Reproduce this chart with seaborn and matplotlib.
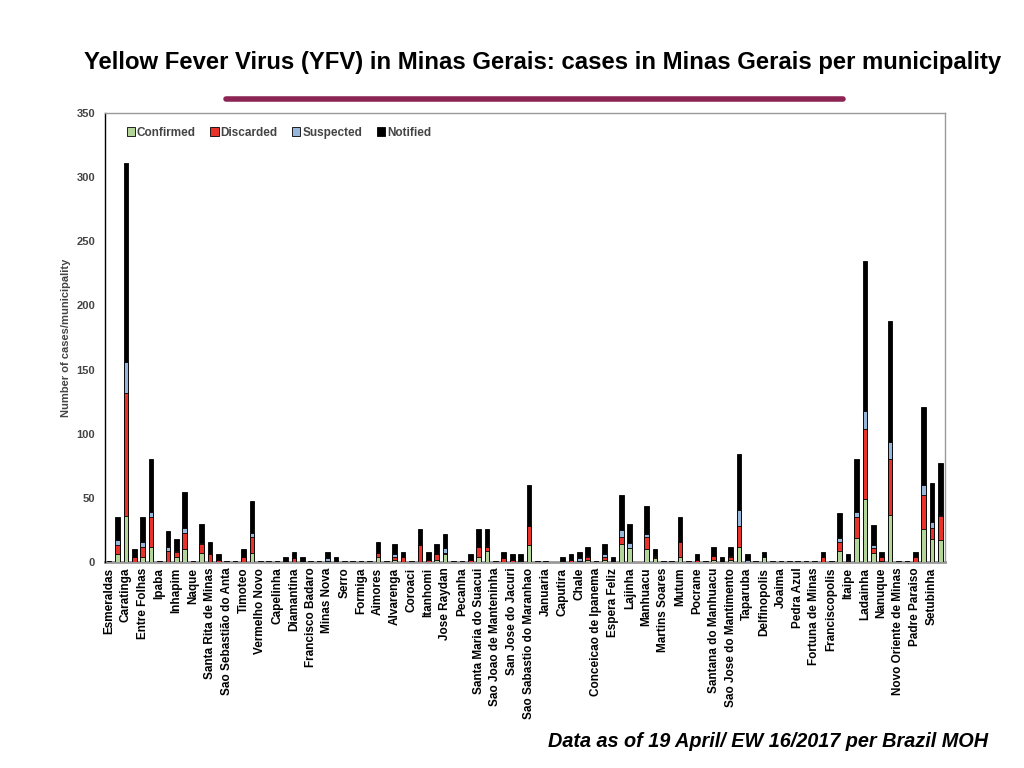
import numpy as np
import pandas as pd
import matplotlib
matplotlib.use("Agg")
import matplotlib.pyplot as plt
from matplotlib.patches import Patch
import seaborn as sns

# municipality labels (only every other bar is labelled on the original slide)
labels = ['Esmeraldas', 'Caratinga', 'Entre Folhas', 'Ipaba', 'Inhapim', 'Naque',
          'Santa Rita de Minas', 'Sao Sebastião do Anta', 'Timoteo', 'Vermelho Novo',
          'Capelinha', 'Diamantina', 'Francisco Badaro', 'Minas Nova', 'Serro',
          'Formiga', 'Aimores', 'Alvarenga', 'Coroaci', 'Itanhomi', 'Jose Raydan',
          'Pecanha', 'Santa Maria do Suacui', 'Sao Joao de Manteninha',
          'San Jose do Jacuri', 'Sao Sabastio do Maranhao', 'Januaria', 'Caputira',
          'Chale', 'Conceicao de Ipanema', 'Espera Feliz', 'Lajinha', 'Manhuacu',
          'Martins Soares', 'Mutum', 'Pocrane', 'Santana do Manhuacu',
          'Sao Jose do Mantimento', 'Taparuba', 'Delfinopolis', 'Joaima',
          'Pedra Azul', 'Fortuna de Minas', 'Franciscopolis', 'Itaipe', 'Ladainha',
          'Nanuque', 'Novo Oriente de Minas', 'Padre Paraiso', 'Setubinha']

# cases per municipality (100 bars, in slide order)
confirmed = [0, 6, 36, 0, 4, 12, 0, 0, 4, 10, 0, 7, 0, 0, 0, 0, 0, 7, 0, 0,
             0, 0, 0, 0, 0, 0, 1, 0, 0, 0, 0, 0, 4, 0, 2, 0, 0, 0, 0, 2,
             6, 0, 0, 0, 4, 9, 0, 0, 0, 0, 13, 0, 0, 0, 0, 0, 1, 2, 0, 2,
             0, 14, 11, 0, 10, 3, 0, 0, 4, 0, 0, 0, 2, 0, 2, 12, 0, 0, 4, 0,
             0, 0, 0, 0, 0, 0, 0, 9, 0, 19, 49, 7, 1, 37, 0, 0, 0, 26, 18, 17]
discarded = [0, 7, 96, 4, 8, 23, 0, 9, 4, 13, 0, 7, 6, 2, 0, 0, 4, 13, 0, 0,
             0, 0, 3, 0, 0, 0, 0, 0, 0, 0, 0, 0, 3, 0, 2, 4, 0, 13, 2, 4,
             1, 0, 0, 2, 8, 3, 0, 3, 2, 0, 15, 0, 0, 0, 1, 2, 0, 2, 0, 2,
             1, 6, 0, 0, 10, 1, 0, 0, 12, 0, 2, 0, 3, 0, 2, 16, 0, 0, 0, 0,
             0, 0, 0, 0, 0, 4, 0, 7, 1, 16, 55, 4, 3, 43, 0, 0, 4, 26, 9, 19]
suspected = [0, 4, 24, 0, 4, 4, 0, 3, 1, 4, 0, 1, 0, 0, 0, 0, 0, 3, 0, 0,
             0, 0, 0, 0, 0, 0, 2, 0, 0, 0, 0, 0, 0, 0, 2, 0, 0, 0, 0, 0,
             4, 0, 0, 0, 0, 0, 0, 0, 0, 1, 0, 0, 0, 0, 0, 0, 2, 1, 0, 2,
             0, 5, 4, 0, 2, 1, 0, 0, 0, 0, 0, 0, 0, 0, 1, 13, 2, 0, 0, 0,
             0, 0, 0, 0, 0, 0, 0, 3, 1, 4, 14, 2, 0, 14, 0, 0, 0, 8, 4, 1]
notified = [1, 18, 155, 6, 19, 41, 1, 12, 9, 28, 1, 15, 10, 4, 1, 1, 6, 25, 1, 1,
            1, 4, 5, 4, 1, 1, 5, 4, 1, 1, 1, 1, 9, 1, 8, 4, 1, 13, 6, 8,
            11, 1, 1, 4, 14, 14, 1, 5, 4, 5, 32, 1, 1, 0, 3, 4, 5, 7, 1, 8,
            3, 27, 15, 0, 22, 5, 1, 1, 19, 1, 4, 1, 7, 4, 7, 43, 4, 1, 4, 1,
            1, 1, 1, 1, 1, 4, 1, 19, 4, 41, 117, 16, 4, 94, 1, 1, 4, 61, 31, 40]

series = ['Confirmed', 'Discarded', 'Suspected', 'Notified']
colors = ['#b3d59a', '#e8322a', '#97b6d9', '#000000']

df = pd.DataFrame({'Confirmed': confirmed, 'Discarded': discarded,
                   'Suspected': suspected, 'Notified': notified})
df['pos'] = np.arange(len(df))
cum = df[series].cumsum(axis=1)

sns.set_style("white")
plt.rcParams['font.family'] = ['Liberation Sans', 'DejaVu Sans']

fig = plt.figure(figsize=(10.24, 7.68), dpi=100)
ax = fig.add_axes([0.1025, 0.268, 0.820, 0.585])

# stacked bars: draw the running totals from the top segment down
for name, col in reversed(list(zip(series, colors))):
    sns.barplot(x=df['pos'], y=cum[name], color=col, width=0.55,
                edgecolor='black', linewidth=0.6, saturation=1, ax=ax, zorder=3)

ax.set_xlim(-0.5, len(df) - 0.5)
ax.set_ylim(0, 350)
ax.set_yticks(range(0, 351, 50))
ax.set_xticks(range(0, len(df), 2))
ax.set_xticklabels(labels, rotation=90, fontsize=8.5, fontweight='bold', color='black')
ax.tick_params(axis='y', labelsize=8, labelcolor='#444444', length=0, pad=7)
for t in ax.get_yticklabels():
    t.set_fontweight('bold')
ax.tick_params(axis='x', length=0, pad=4)
ax.set_xlabel('')
ax.set_ylabel('Number of cases/municipality', fontsize=8, fontweight='bold',
              color='#444444', labelpad=4)

for s in ['top', 'right']:
    ax.spines[s].set_color('#999999')
    ax.spines[s].set_linewidth(1)
ax.spines['left'].set_color('black')
ax.spines['left'].set_linewidth(1)
ax.spines['bottom'].set_color('#999999')
ax.spines['bottom'].set_linewidth(2)
ax.spines['bottom'].set_zorder(2)

handles = [Patch(facecolor=c, edgecolor='black', linewidth=0.6) for c in colors]
leg = ax.legend(handles, series, loc='upper left', bbox_to_anchor=(0.013, 0.993),
                ncol=4, frameon=False, handlelength=0.7, handleheight=0.7,
                handletextpad=0.15, columnspacing=1.25,
                prop={'size': 8.5, 'weight': 'bold'})
for t in leg.get_texts():
    t.set_color('#444444')

fig.text(0.530, 0.919, 'Yellow Fever Virus (YFV) in Minas Gerais: cases in Minas Gerais per municipality',
         ha='center', va='center', fontsize=17.2, fontweight='bold', color='black')
fig.add_artist(plt.Line2D([226 / 1024, 843 / 1024], [1 - 99 / 768, 1 - 99 / 768],
                          color='#8c2553', linewidth=4))
fig.text(0.965, 0.034, 'Data as of 19 April/ EW 16/2017 per Brazil MOH',
         ha='right', va='center', fontsize=14.3, fontweight='bold', fontstyle='italic',
         color='black')

fig.savefig('out.png', dpi=100)
